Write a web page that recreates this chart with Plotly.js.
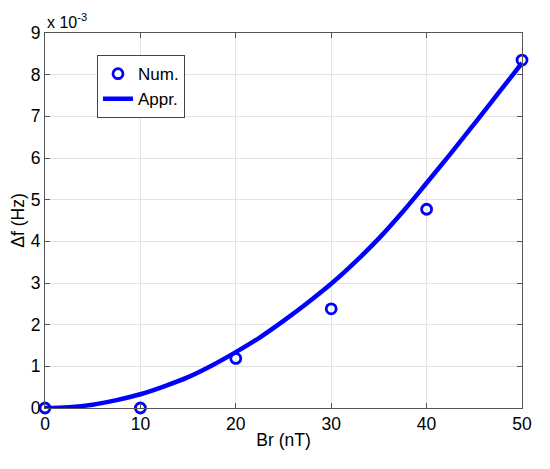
<!DOCTYPE html>
<html>
<head>
<meta charset="utf-8">
<script src="https://cdn.plot.ly/plotly-3.0.1.min.js"></script>
<style>html,body{margin:0;padding:0;background:#fff}#chart{width:550px;height:469px}</style>
</head>
<body>
<div id="chart"></div>
<script>
// Numerical points (Br in nT, Δf in 1e-3 Hz)
var numBr = [0, 10, 20, 30, 40, 50];
var numDf = [0, 0, 1.19, 2.38, 4.77, 8.35];
// Approximation curve
var apprBr = [0, 2.5, 5, 7.5, 10, 12.5, 15, 17.5, 20, 22.5, 25, 27.5, 30, 32.5, 35, 37.5, 40, 42.5, 45, 47.5, 50];
var apprDf = [0, 0.02, 0.08, 0.19, 0.33, 0.52, 0.74, 1.02, 1.34, 1.69, 2.09, 2.52, 2.98, 3.5, 4.07, 4.71, 5.4, 6.1, 6.82, 7.55, 8.28];
var xTicks = [0, 10, 20, 30, 40, 50];
var yTicks = [0, 1, 2, 3, 4, 5, 6, 7, 8, 9];

var font = {family: '"Liberation Sans", Arial, sans-serif', size: 17.5, color: '#000'};

var traces = [
  {x: numBr, y: numDf, name: 'Num.', mode: 'markers', type: 'scatter', cliponaxis: false,
   marker: {symbol: 'circle-open', size: 10, color: '#0000ff', line: {width: 2.8, color: '#0000ff'}}},
  {x: apprBr, y: apprDf, name: 'Appr.', mode: 'lines', type: 'scatter', line: {color: '#0000ff', width: 4.5, shape: 'spline', smoothing: 1}}
];

var axisCommon = {
  showline: true, linecolor: '#555', linewidth: 1, mirror: 'ticks',
  ticks: 'inside', ticklen: 5, tickcolor: '#555',
  showgrid: true, gridcolor: '#e3e3e3', gridwidth: 1, zeroline: false,
  tickfont: font
};

var layout = {
  width: 550, height: 469,
  margin: {l: 45, r: 28, t: 33, b: 61},
  paper_bgcolor: '#fff', plot_bgcolor: '#fff',
  font: font,
  showlegend: true,
  legend: {x: 0.109, y: 0.941, xanchor: 'left', yanchor: 'top', bgcolor: '#fff',
           bordercolor: '#444', borderwidth: 1, font: {family: font.family, size: 17, color: '#000'},
           tracegroupgap: 0},
  xaxis: Object.assign({}, axisCommon, {range: [0, 50], tickvals: xTicks, ticktext: xTicks.map(String),
          title: {text: 'Br (nT)', font: font, standoff: 0}}),
  yaxis: Object.assign({}, axisCommon, {range: [0, 9], tickvals: yTicks, ticktext: yTicks.map(String),
          title: {text: 'Δf (Hz)', font: font, standoff: 1}}),
  annotations: [{xref: 'paper', yref: 'paper', x: 0, y: 1, xanchor: 'left', yanchor: 'bottom',
                 text: 'x 10<sup>-3</sup>', showarrow: false, font: {family: font.family, size: 16, color: '#000'}, yshift: 0}]
};

Plotly.newPlot('chart', traces, layout, {displayModeBar: false, staticPlot: true});
</script>
</body>
</html>
